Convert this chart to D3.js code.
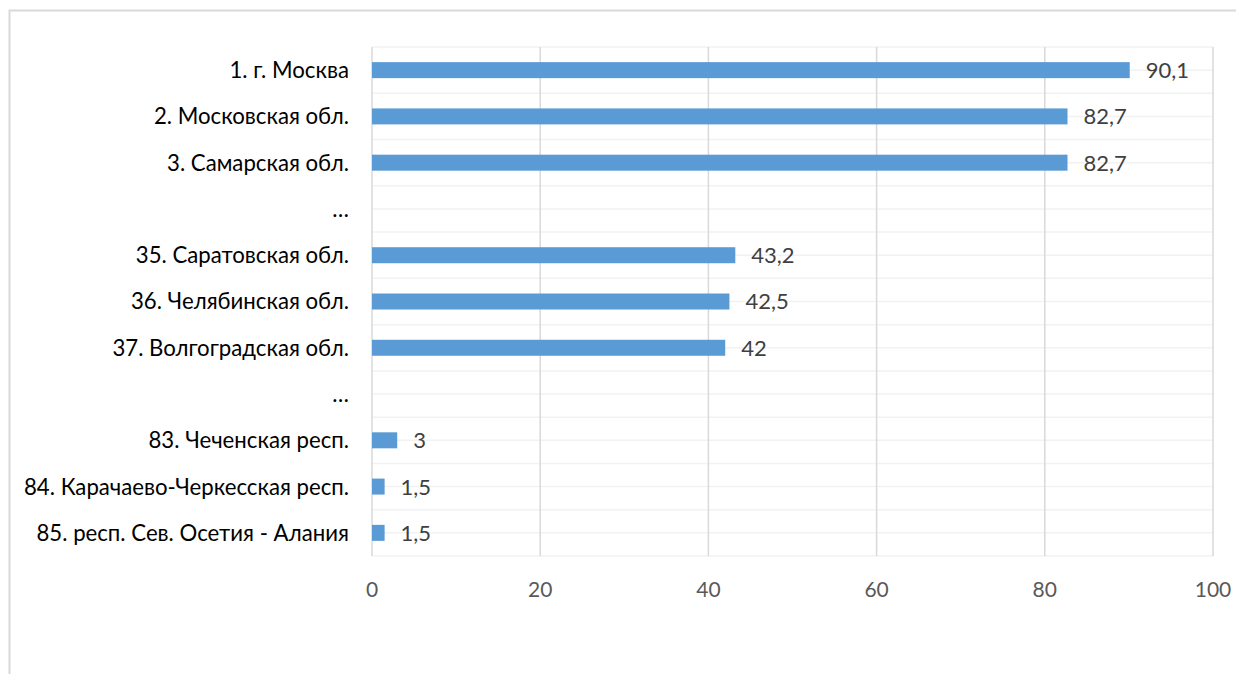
<!DOCTYPE html>
<html>
<head>
<meta charset="utf-8">
<script src="https://cdn.jsdelivr.net/npm/d3@7"></script>
<style>
  body { margin: 0; background: #fff; }
  svg { display: block; }
</style>
</head>
<body>
<svg id="chart" width="1236" height="674"></svg>
<script>
// regions in the order they appear, top to bottom
const regions = [
  "1. г. Москва",
  "2. Московская обл.",
  "3. Самарская обл.",
  "…",
  "35. Саратовская обл.",
  "36. Челябинская обл.",
  "37. Волгоградская обл.",
  "… ",
  "83. Чеченская респ.",
  "84. Карачаево-Черкесская респ.",
  "85. респ. Сев. Осетия - Алания"
];
const values = [90.1, 82.7, 82.7, null, 43.2, 42.5, 42, null, 3, 1.5, 1.5];
const xTicks = [0, 20, 40, 60, 80, 100];

const svg = d3.select("#chart");
const font = "Lato, 'Open Sans', sans-serif";

const margin = { left: 372, right: 23, top: 47, bottom: 118 };
const W = 1236, H = 674;

const x = d3.scaleLinear().domain([0, 100]).range([margin.left, W - margin.right]);
const y = d3.scaleBand().domain(regions).range([margin.top, H - margin.bottom]).padding(0);

const ru = d3.formatLocale({ decimal: ",", thousands: " ", grouping: [3], currency: ["", " ₽"] });
const fmt = ru.format("~g");

// outer chart frame
svg.append("rect")
  .attr("x", 9.5).attr("y", 10.5)
  .attr("width", 1300).attr("height", 800)
  .attr("fill", "none")
  .attr("stroke", "#d9d9d9")
  .attr("stroke-width", 2);

// horizontal lines: category edges and centres
const hLines = [];
regions.forEach(r => {
  hLines.push(y(r));
  hLines.push(y(r) + y.bandwidth() / 2);
});
hLines.push(y.range()[1]);

svg.append("g")
  .selectAll("line")
  .data(hLines)
  .join("line")
  .attr("x1", x(0)).attr("x2", x(100))
  .attr("y1", d => d).attr("y2", d => d)
  .attr("stroke", "#f2f2f2")
  .attr("stroke-width", 1.5);

// vertical gridlines
svg.append("g")
  .selectAll("line")
  .data(xTicks)
  .join("line")
  .attr("x1", d => x(d)).attr("x2", d => x(d))
  .attr("y1", y.range()[0]).attr("y2", y.range()[1])
  .attr("stroke", "#d9d9d9")
  .attr("stroke-width", 1.5);

const rows = regions.map((r, i) => ({ region: r, value: values[i] }));
const barH = 16;

svg.append("g")
  .selectAll("rect")
  .data(rows.filter(d => d.value != null))
  .join("rect")
  .attr("x", x(0))
  .attr("y", d => y(d.region) + y.bandwidth() / 2 - barH / 2)
  .attr("width", d => x(d.value) - x(0))
  .attr("height", barH)
  .attr("fill", "#5b9bd5");

// value labels
svg.append("g")
  .selectAll("text")
  .data(rows.filter(d => d.value != null))
  .join("text")
  .attr("x", d => x(d.value) + 16)
  .attr("y", d => y(d.region) + y.bandwidth() / 2)
  .attr("dy", "0.36em")
  .attr("font-family", font)
  .attr("font-size", 22)
  .attr("fill", "#404040")
  .text(d => fmt(d.value));

// category labels
svg.append("g")
  .selectAll("text")
  .data(regions)
  .join("text")
  .attr("x", x(0) - 23)
  .attr("y", d => y(d) + y.bandwidth() / 2)
  .attr("dy", "0.36em")
  .attr("text-anchor", "end")
  .attr("font-family", font)
  .attr("font-size", 22.2)
  .attr("fill", "#000")
  .text(d => d.trim());

// x tick labels
svg.append("g")
  .selectAll("text")
  .data(xTicks)
  .join("text")
  .attr("x", d => x(d))
  .attr("y", 589)
  .attr("dy", "0.36em")
  .attr("text-anchor", "middle")
  .attr("font-family", font)
  .attr("font-size", 21)
  .attr("fill", "#595959")
  .text(d => d);
</script>
</body>
</html>
